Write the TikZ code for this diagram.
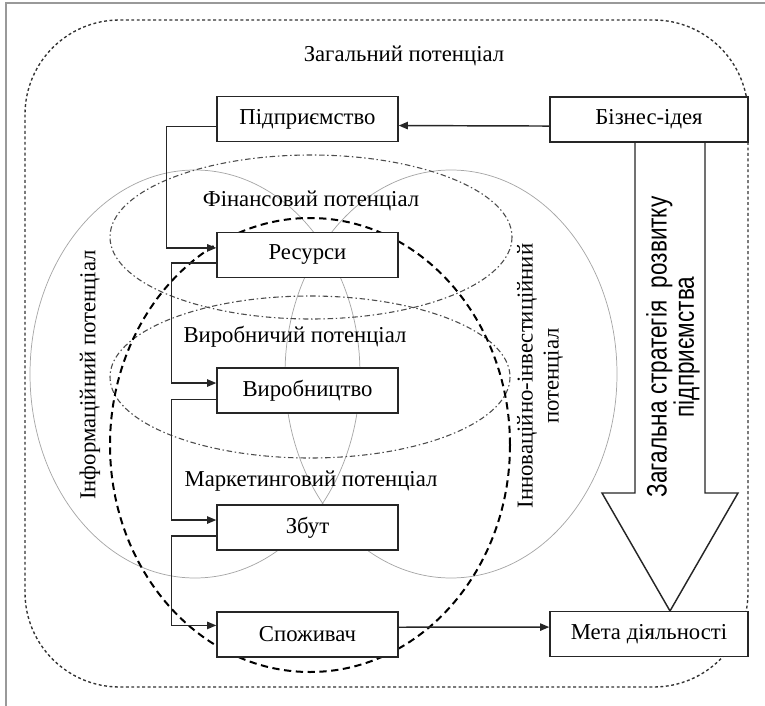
\documentclass[tikz,border=0pt]{standalone}
\usepackage{fontspec}
\setmainfont{Liberation Serif}
\newfontfamily\narrowsans[FakeStretch=0.8]{Liberation Sans}
\usetikzlibrary{
    arrows.meta,
    positioning,
    calc
}
\tikzset{
    % --- Stage of the chain (white box) ---
    stage_node/.style = {
        rectangle, draw=black!85, line width=0.8pt, fill=white,
        minimum width=99.5pt, minimum height=24.8pt, inner sep=2pt
    },
    % --- Wider box on the right ---
    goal_node/.style = {
        stage_node, minimum width=108.9pt
    },
    % --- Outer border of the whole potential ---
    general_border/.style = {
        draw=black!80, line width=0.75pt,
        dash pattern=on 1.6pt off 1.4pt, rounded corners=52pt
    },
    % --- Large thin spheres (left and right) ---
    sphere_line/.style = {
        draw=black!35, line width=0.4pt
    },
    % --- Dash-dot areas ---
    area_line/.style = {
        draw=black!70, line width=0.6pt,
        dash pattern=on 3pt off 1.5pt on 0.8pt off 1.5pt
    },
    % --- Thick dashed core ---
    core_line/.style = {
        draw=black, line width=1.1pt, dash pattern=on 4pt off 2.5pt
    },
    % --- Flow arrow between stages ---
    flow/.style = {
        ->, draw=black!85, line width=0.8pt
    },
    % --- Hollow strategy arrow ---
    strategy_arrow/.style = {
        draw=black!85, line width=0.8pt, fill=white
    }
}

\begin{document}
\begin{tikzpicture}[
    x=0.55pt, y=-0.55pt,
    >={Triangle[length=5pt,width=4pt]},
    font=\fontsize{12.5}{14.3}\selectfont
]
\useasboundingbox (0,0) rectangle (765,706);

% ---------------------------------------------------------
% 1. Frame and general potential
% ---------------------------------------------------------
\draw[black!40, line width=1.1pt] (6,706) -- (6,3) -- (765,3);
\draw[general_border] (25,20) rectangle (748,687);
\node (General) at (404,56) {Загальний потенціал};

% ---------------------------------------------------------
% 2. Potential areas
% ---------------------------------------------------------
\draw[sphere_line] (195,374) ellipse [x radius=165, y radius=204];
\draw[sphere_line] (451,374) ellipse [x radius=166, y radius=204];
\draw[area_line] (311,237) ellipse [x radius=201, y radius=82];
\draw[area_line] (310,377) ellipse [x radius=200, y radius=81];
\draw[core_line] (310,445) ellipse [x radius=200, y radius=227];

% Labels
\node (Fin)  at (311,201) {Фінансовий потенціал};
\node (Man)  at (295,337) {Виробничий потенціал};
\node (Mark) at (311,481) {Маркетинговий потенціал};
\node[rotate=90] (Info) at (90,375) {Інформаційний потенціал};
\node[rotate=90, align=center] (Innov) at (540,376)
    {Інноваційно-інвестиційний\\потенціал};

% ---------------------------------------------------------
% 3. Strategy arrow
% ---------------------------------------------------------
\draw[strategy_arrow] (635,142) -- (635,493) -- (602,493) -- (670,611)
    -- (738,493) -- (705,493) -- (705,142);
\node[rotate=90, align=center,
      font=\narrowsans\fontsize{15.5}{15}\selectfont] (Strat) at (673,347)
    {Загальна стратегія\ \ розвитку\\підприємства};

% ---------------------------------------------------------
% 4. Stages
% ---------------------------------------------------------
\node[stage_node] (Firm)  at (307.5,119)   {Підприємство};
\node[stage_node] (Res)   at (307.5,255)   {Ресурси};
\node[stage_node] (Prod)  at (307.5,390.5) {Виробництво};
\node[stage_node] (Sales) at (307.5,527.5) {Збут};
\node[stage_node] (Cons)  at (307.5,634.5) {Споживач};
\node[goal_node]  (Idea)  at (649,119.5)   {Бізнес-ідея};
\node[goal_node]  (Goal)  at (649,634)     {Мета діяльності};

% ---------------------------------------------------------
% 5. Wiring
% ---------------------------------------------------------
\draw[flow] ([yshift=-3.6pt]Idea.west) -- ([yshift=-3.6pt]Firm.east);
\draw[flow] ([yshift=-4.1pt]Firm.west) -- ++(-50,0) |- ([yshift=3.9pt]Res.west);
\draw[flow] ([yshift=-4.4pt]Res.west) -- ++(-45,0) |- ([yshift=4.1pt]Prod.west);
\draw[flow] ([yshift=-5pt]Prod.west) -- ++(-45,0) |- ([yshift=4.1pt]Sales.west);
\draw[flow] ([yshift=-4.7pt]Sales.west) -- ++(-45,0) |- ([yshift=5pt]Cons.west);
\draw[flow] ([yshift=4pt]Cons.east) -- ([yshift=3.8pt]Goal.west);

\end{tikzpicture}
\end{document}
